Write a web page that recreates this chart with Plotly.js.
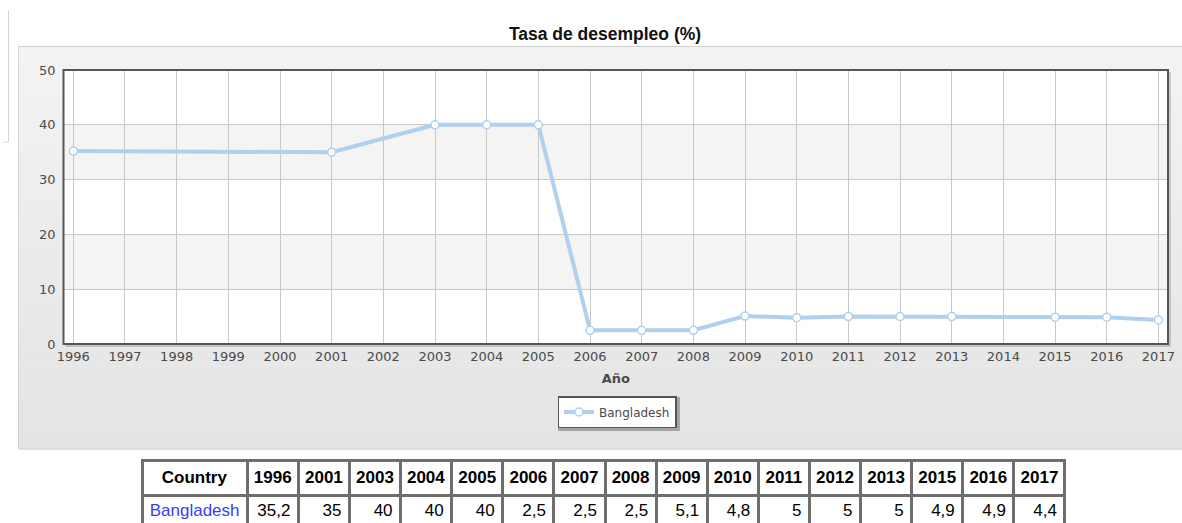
<!DOCTYPE html>
<html>
<head>
<meta charset="utf-8">
<script src="https://cdn.plot.ly/plotly-3.0.1.min.js"></script>
<style>
html,body{margin:0;padding:0;background:#ffffff;}
#chart{width:1182px;height:523px;}
</style>
</head>
<body>
<div id="chart"></div>
<script>
// ---- data ----
const years = [1996, 2001, 2003, 2004, 2005, 2006, 2007, 2008, 2009, 2010, 2011, 2012, 2013, 2015, 2016, 2017];
const unemployment = [35.2, 35, 40, 40, 40, 2.5, 2.5, 2.5, 5.1, 4.8, 5, 5, 5, 4.9, 4.9, 4.4];
const seriesName = 'Bangladesh';
const chartTitle = 'Tasa de desempleo (%)';
const xAxisTitle = 'Año';
const tableFirstHeader = 'Country';
const yTickValues = [0, 10, 20, 30, 40, 50];
const xTickValues = [1996, 1997, 1998, 1999, 2000, 2001, 2002, 2003, 2004, 2005, 2006, 2007, 2008, 2009, 2010, 2011, 2012, 2013, 2014, 2015, 2016, 2017];

// ---- layout helpers ----
const W = 1182, H = 523;
const px = v => v / W;
const py = v => 1 - v / H;

const plotL = 63.5, plotR = 1168, plotT = 70, plotB = 344;

const shapes = [];
// page artifact on the left
shapes.push({type:'line', xref:'paper', yref:'paper', x0:px(8.5), x1:px(8.5), y0:py(10), y1:py(142), line:{color:'#d4d4d4', width:1}, layer:'below'});
shapes.push({type:'line', xref:'paper', yref:'paper', x0:px(3), x1:px(8.5), y0:py(142), y1:py(142), line:{color:'#d4d4d4', width:1}, layer:'below'});
// container gradient
const cTop = 46.5, cBot = 449, cL = 18.5, cR = 1182;
const strips = 24;
for (let i = 0; i < strips; i++) {
  const t = i / (strips - 1);
  const c = Math.round(243 - t * (243 - 228));
  const y0 = cTop + (cBot - cTop) * i / strips;
  const y1 = cTop + (cBot - cTop) * (i + 1) / strips;
  shapes.push({type:'rect', xref:'paper', yref:'paper', x0:px(cL), x1:px(cR), y0:py(y1 + 0.5), y1:py(y0), fillcolor:`rgb(${c},${c},${c})`, line:{width:0}, layer:'below'});
}
shapes.push({type:'rect', xref:'paper', yref:'paper', x0:px(cL), x1:px(cR + 2), y0:py(cBot), y1:py(cTop), fillcolor:'rgba(0,0,0,0)', line:{color:'#d2d2d2', width:1}, layer:'below'});
// plot shadow + white plot area
shapes.push({type:'rect', xref:'paper', yref:'paper', x0:px(plotL + 2), x1:px(plotR + 3), y0:py(plotB + 3), y1:py(plotT + 2), fillcolor:'rgba(0,0,0,0.16)', line:{width:0}, layer:'below'});
shapes.push({type:'rect', xref:'paper', yref:'paper', x0:px(plotL), x1:px(plotR), y0:py(plotB), y1:py(plotT), fillcolor:'#ffffff', line:{width:0}, layer:'below'});
// alternating bands
[[10, 20], [30, 40]].forEach(b => {
  shapes.push({type:'rect', xref:'x domain', yref:'y', x0:0, x1:1, y0:b[0], y1:b[1], fillcolor:'#f4f4f4', line:{width:0}, layer:'below'});
});
// plot border
shapes.push({type:'rect', xref:'paper', yref:'paper', x0:px(plotL), x1:px(plotR), y0:py(plotB), y1:py(plotT), fillcolor:'rgba(0,0,0,0)', line:{color:'#555555', width:2}, layer:'above'});
// legend shadow
shapes.push({type:'rect', xref:'paper', yref:'paper', x0:px(558), x1:px(680), y0:py(431), y1:py(397), fillcolor:'rgba(0,0,0,0.28)', line:{width:0}, layer:'above'});

const lineColor = '#afd0ee';

const lineTrace = {
  type:'scatter', mode:'lines+markers',
  x: years, y: unemployment, name: seriesName,
  line:{color:lineColor, width:4},
  marker:{symbol:'circle', size:8, color:'#ffffff', line:{color:lineColor, width:1.5}},
  hoverinfo:'x+y', cliponaxis:false
};

const fmt = v => String(v).replace('.', ',');
const headerVals = [tableFirstHeader].concat(years.map(String)).map(s => '<b>' + s + '</b>');
const cellVals = [[seriesName]].concat(unemployment.map(v => [fmt(v)]));
const colWidths = [105].concat(years.map(() => 51));
const cellColors = ['#3c3cf2'].concat(years.map(() => '#000000'));
const cellAlign = ['center'].concat(years.map(() => 'right'));

const tableTrace = {
  type:'table',
  domain:{x:[px(142), px(1065)], y:[0, py(460)]},
  columnwidth: colWidths,
  header:{
    values: headerVals,
    align:'center',
    height:31,
    font:{family:'Liberation Sans, Arial, sans-serif', size:17, color:'#000000'},
    fill:{color:'#ffffff'},
    line:{color:'#6e6e6e', width:3}
  },
  cells:{
    values: cellVals,
    align: cellAlign,
    height:30,
    font:{family:'Liberation Sans, Arial, sans-serif', size:17, color:cellColors},
    fill:{color:'#ffffff'},
    line:{color:'#6e6e6e', width:3}
  }
};

const axisFont = {family:'DejaVu Sans, Verdana, sans-serif', size:13, color:'#4a4a4a'};

const layout = {
  width: W, height: H,
  margin:{l:0, r:0, t:0, b:0, pad:0},
  paper_bgcolor:'#ffffff',
  plot_bgcolor:'rgba(0,0,0,0)',
  showlegend:true,
  title:{
    text:'<b>' + chartTitle + '</b>',
    x: px(605), xref:'paper', xanchor:'center',
    y: py(34), yref:'paper', yanchor:'middle',
    font:{family:'Liberation Sans, Arial, sans-serif', size:17.5, color:'#111111'}
  },
  xaxis:{
    domain:[px(plotL), px(plotR)],
    range:[1995.81, 2017.186],
    tickmode:'array', tickvals: xTickValues, ticktext: xTickValues.map(String),
    showgrid:true, gridcolor:'#c8c8c8', gridwidth:1,
    zeroline:false, showline:false, ticks:'',
    ticklabelstandoff:3,
    tickfont: axisFont,
    title:{text:'<b>' + xAxisTitle + '</b>', font:axisFont, standoff:10},
    fixedrange:true
  },
  yaxis:{
    domain:[py(plotB), py(plotT)],
    range:[0, 50],
    tickmode:'array', tickvals: yTickValues, ticktext: yTickValues.map(String),
    showgrid:true, gridcolor:'#c8c8c8', gridwidth:1,
    zeroline:false, showline:false, ticks:'',
    ticklabelstandoff:7,
    tickfont: axisFont,
    fixedrange:true
  },
  legend:{
    orientation:'h',
    x: px(617), xanchor:'center',
    y: py(412), yanchor:'middle',
    bgcolor:'#ffffff', bordercolor:'#555555', borderwidth:1.5,
    font:{family:'DejaVu Sans, Verdana, sans-serif', size:12, color:'#4a4a4a'},
    itemwidth:30
  },
  shapes: shapes
};

Plotly.newPlot('chart', [lineTrace, tableTrace], layout, {displayModeBar:false, responsive:false});
</script>
</body>
</html>
